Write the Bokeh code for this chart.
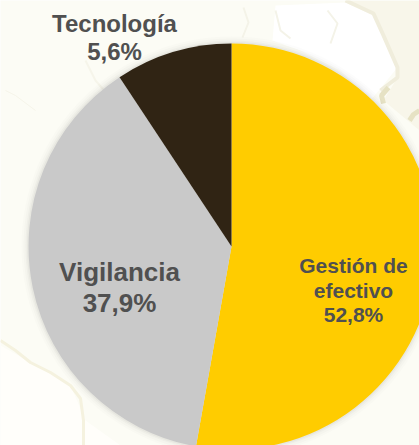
from bokeh.plotting import figure
from bokeh.embed import file_html
from bokeh.resources import INLINE
from bokeh.models import ColumnDataSource, Range1d
from bokeh.core.properties import value
import math

# Slice sizes as drawn (the printed label of the small slice differs from its drawn size)
categories = ["Gestión de efectivo", "Vigilancia", "Tecnología"]
slice_values = [52.8, 37.9, 9.3]
slice_colors = ["#FFCC00", "#C9C9C9", "#302414"]
label_lines = ["Tecnología", "5,6%", "Vigilancia", "37,9%", "Gestión de", "efectivo", "52,8%"]
label_x = [114, 114, 119, 119, 353, 353, 353]
label_y = [23, 51, 271, 302, 265, 290, 314]
label_size = ["24px", "24px", "26px", "26px", "21px", "21px", "21px"]

W, H = 419, 445
CX, CY, R = 231, 246, 203

# Faint map in the background: pale land patches and coast lines
patch_x = [[345, 419, 419, 383, 397, 397, 373],
           [275, 345, 373, 383, 396, 380, 370, 340, 300, 272],
           [0, 30, 70, 85, 120, 0]]
patch_y = [[0, 0, 130, 100, 77, 67, 13],
           [5, 2, 15, 35, 68, 88, 100, 70, 50, 40],
           [345, 362, 385, 420, 445, 445]]
patch_color = ["#F8F6EA", "#FFFFFF", "#FFFEFA"]

map_x = [[0, 15, 30, 50, 70, 80, 83, 83], [345, 373, 383, 397, 397, 380],
         [327, 337, 330], [243, 248, 242], [275, 280, 290], [5, 15, 35], [85, 95, 108, 112]]
map_y = [[340, 350, 362, 372, 385, 398, 420, 445], [0, 13, 35, 67, 77, 90],
         [10, 23, 43], [7, 22, 37], [10, 30, 38], [90, 95, 110], [60, 80, 95, 100]]
map_w = [3, 4, 2, 2, 2, 1, 2]
map_color = ["#F5F2DF", "#F0EDDC", "#F4F3E8", "#F4F3E8", "#F4F3E8", "#F6F5EA", "#F6F5EA"]

tan_x = [[383, 381, 388], [409, 413, 419]]
tan_y = [[103, 95, 87], [120, 114, 110]]

p = figure(width=W, height=H, output_backend="svg", toolbar_location=None,
           x_range=Range1d(0, W), y_range=Range1d(H, 0),
           x_axis_type=None, y_axis_type=None, min_border=0,
           background_fill_color="#FCFCF5", border_fill_color="#FCFCF5",
           outline_line_color=None,
           styles={"position": "absolute", "left": "0px", "top": "0px"})
p.grid.visible = False

p.patches(patch_x, patch_y, fill_color=patch_color, line_color=None)
p.multi_line(map_x, map_y, line_color=map_color, line_width=map_w)
p.multi_line(tan_x, tan_y, line_color="#E6E2C4", line_width=5)

# Soft shadow round the pie
for dr, a in [(7, 0.025), (5, 0.03), (3, 0.05), (1.5, 0.07)]:
    p.circle(x=CX, y=CY, radius=R + dr, fill_color="#808080", fill_alpha=a, line_color=None)

total = sum(slice_values)
starts, ends, acc = [], [], 0.0
for v in slice_values:
    starts.append(math.pi / 2 - 2 * math.pi * acc / total)
    acc += v
    ends.append(math.pi / 2 - 2 * math.pi * acc / total)

src = ColumnDataSource(dict(cat=categories, start=starts, end=ends, color=slice_colors))
p.wedge(x=CX, y=CY, radius=R, start_angle="start", end_angle="end", direction="clock",
        fill_color="color", line_color=None, source=src)

lab = ColumnDataSource(dict(x=label_x, y=label_y, t=label_lines, s=label_size))
p.text(x="x", y="y", text="t", text_font_size="s", source=lab, text_align="center",
       text_baseline="alphabetic", text_font=value("Liberation Sans"),
       text_font_style="bold", text_color="#505050")

open("out.html", "w").write(file_html(p, INLINE))
